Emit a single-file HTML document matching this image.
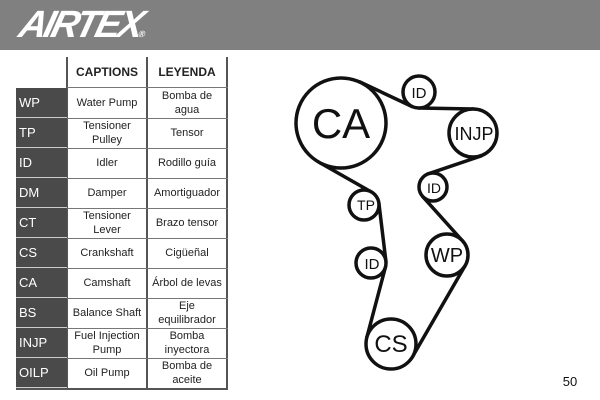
<!DOCTYPE html>
<html><head><style>
body{margin:0;width:600px;height:400px;background:#fff;position:relative;overflow:hidden;font-family:"Liberation Sans",sans-serif}
.hdr{position:absolute;left:0;top:0;width:600px;height:50px;background:#808080}
.logo{position:absolute;left:20px;top:4px;color:#fff;font:italic bold 38px "Liberation Sans",sans-serif;letter-spacing:-3px;transform:skewX(-14deg)}
.c{position:absolute;display:flex;align-items:center;justify-content:center;text-align:center;font-size:11px;line-height:14px;color:#222}
.ab{position:absolute;left:16px;width:51px;height:30px;background:#4a4a4a;color:#fff;font-size:13px;display:flex;align-items:center;padding-left:3px;box-sizing:border-box;border-bottom:1px solid #ccc}
.vl{position:absolute;top:57px;width:2px;height:332px;background:#555}
.hl{position:absolute;left:67px;width:161px;height:1px;background:#777}
</style></head><body>
<div class="hdr"></div>
<div class="logo">AIRTEX<span style="font-size:9px;letter-spacing:0">®</span></div>
<div class="vl" style="left:66px"></div>
<div class="vl" style="left:146px"></div>
<div class="vl" style="left:226px"></div>
<div class="c" style="left:68px;top:57px;width:78px;height:30px;font-weight:bold;font-size:12px">CAPTIONS</div>
<div class="c" style="left:148px;top:57px;width:78px;height:30px;font-weight:bold;font-size:12px">LEYENDA</div>
<div style="position:absolute;left:16px;top:388px;width:212px;height:2px;background:#555"></div>
<div class="hl" style="top:87px"></div>
<div class="ab" style="top:88px">WP</div><div class="c" style="left:68px;top:88px;width:78px;height:30px">Water Pump</div><div class="c" style="left:148px;top:88px;width:78px;height:30px">Bomba de<br>agua</div>
<div class="hl" style="top:118px"></div>
<div class="ab" style="top:118px">TP</div><div class="c" style="left:68px;top:118px;width:78px;height:30px">Tensioner<br>Pulley</div><div class="c" style="left:148px;top:118px;width:78px;height:30px">Tensor</div>
<div class="hl" style="top:148px"></div>
<div class="ab" style="top:148px">ID</div><div class="c" style="left:68px;top:148px;width:78px;height:30px">Idler</div><div class="c" style="left:148px;top:148px;width:78px;height:30px">Rodillo guía</div>
<div class="hl" style="top:178px"></div>
<div class="ab" style="top:178px">DM</div><div class="c" style="left:68px;top:178px;width:78px;height:30px">Damper</div><div class="c" style="left:148px;top:178px;width:78px;height:30px">Amortiguador</div>
<div class="hl" style="top:208px"></div>
<div class="ab" style="top:208px">CT</div><div class="c" style="left:68px;top:208px;width:78px;height:30px">Tensioner<br>Lever</div><div class="c" style="left:148px;top:208px;width:78px;height:30px">Brazo tensor</div>
<div class="hl" style="top:238px"></div>
<div class="ab" style="top:238px">CS</div><div class="c" style="left:68px;top:238px;width:78px;height:30px">Crankshaft</div><div class="c" style="left:148px;top:238px;width:78px;height:30px">Cigüeñal</div>
<div class="hl" style="top:268px"></div>
<div class="ab" style="top:268px">CA</div><div class="c" style="left:68px;top:268px;width:78px;height:30px">Camshaft</div><div class="c" style="left:148px;top:268px;width:78px;height:30px">Árbol de levas</div>
<div class="hl" style="top:298px"></div>
<div class="ab" style="top:298px">BS</div><div class="c" style="left:68px;top:298px;width:78px;height:30px">Balance Shaft</div><div class="c" style="left:148px;top:298px;width:78px;height:30px">Eje<br>equilibrador</div>
<div class="hl" style="top:328px"></div>
<div class="ab" style="top:328px">INJP</div><div class="c" style="left:68px;top:328px;width:78px;height:30px">Fuel Injection<br>Pump</div><div class="c" style="left:148px;top:328px;width:78px;height:30px">Bomba<br>inyectora</div>
<div class="hl" style="top:358px"></div>
<div class="ab" style="top:358px">OILP</div><div class="c" style="left:68px;top:358px;width:78px;height:30px">Oil Pump</div><div class="c" style="left:148px;top:358px;width:78px;height:30px">Bomba de<br>aceite</div>
<svg style="position:absolute;left:0;top:0" width="600" height="400">
<g stroke="#111" stroke-width="3.5" fill="none" stroke-linecap="round">
<line x1="360" y1="82" x2="412" y2="106.5"/>
<line x1="418.7" y1="108" x2="473.4" y2="109"/>
<line x1="481" y1="156" x2="428.4" y2="173.8"/>
<line x1="422.6" y1="196.4" x2="462.6" y2="241"/>
<line x1="465.2" y1="265.5" x2="412.6" y2="356.5"/>
<line x1="366.8" y1="337.6" x2="385.5" y2="266.8"/>
<line x1="385.9" y1="261.2" x2="378.9" y2="203.2"/>
<line x1="371.4" y1="192" x2="318.8" y2="162.1"/>
<circle cx="341" cy="123" r="45" fill="#fff"/>
<circle cx="419" cy="92" r="16" fill="#fff"/>
<circle cx="473" cy="133" r="24" fill="#fff"/>
<circle cx="433" cy="187" r="14" fill="#fff"/>
<circle cx="364" cy="205" r="15" fill="#fff"/>
<circle cx="447" cy="255" r="21" fill="#fff"/>
<circle cx="371" cy="263" r="15" fill="#fff"/>
<circle cx="391" cy="344" r="25" fill="#fff"/>
</g>
<g font-family="Liberation Sans, sans-serif" fill="#111" text-anchor="middle">
<text x="341" y="138" font-size="42">CA</text>
<text x="419" y="98" font-size="15">ID</text>
<text x="474" y="140" font-size="18">INJP</text>
<text x="434" y="193" font-size="14">ID</text>
<text x="366" y="210" font-size="14">TP</text>
<text x="447" y="262" font-size="20">WP</text>
<text x="372" y="269" font-size="15">ID</text>
<text x="391" y="352" font-size="24">CS</text>
<text x="570" y="386" font-size="13">50</text>
</g>
</svg>
</body></html>
